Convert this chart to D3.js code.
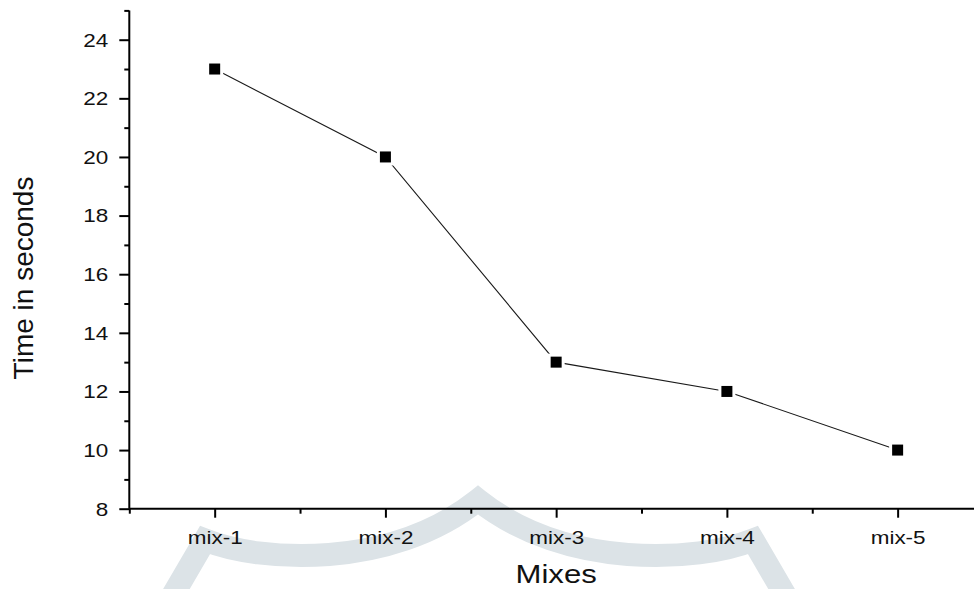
<!DOCTYPE html>
<html>
<head>
<meta charset="utf-8">
<script src="https://cdn.jsdelivr.net/npm/d3@7/dist/d3.min.js"></script>
<style>
  html, body { margin: 0; padding: 0; background: #fff; }
  svg { display: block; }
  text { font-family: "Liberation Sans", Arial, Helvetica, sans-serif; fill: #111; }
</style>
</head>
<body>
<svg id="chart" width="974" height="589"></svg>
<script>
// ---- data ----
const categories = ["mix-1", "mix-2", "mix-3", "mix-4", "mix-5"];
const times = [23, 20, 13, 12, 10];
const yTickValues = [8, 10, 12, 14, 16, 18, 20, 22, 24];
const yMinorTickValues = [9, 11, 13, 15, 17, 19, 21, 23, 25];
const xLabel = "Mixes";
const yLabel = "Time in seconds";

// ---- layout ----
const plotLeft = 129.3, plotRight = 983, plotTop = 10.4, plotBottom = 508.7;
const svg = d3.select("#chart");

const x = d3.scaleLinear().domain([-0.5, categories.length - 0.5]).range([plotLeft, plotRight]);
const y = d3.scaleLinear().domain([8, 25]).range([plotBottom, plotTop]);

// ---- watermark (background decoration) ----
svg.append("path")
  .attr("d", "M163,612 L205,540 C260,562 390,570 478,500 C566,570 698,562 753,540 L795,612")
  .attr("fill", "none")
  .attr("stroke", "rgb(220,227,231)")
  .attr("stroke-width", 23)
  .attr("stroke-linejoin", "miter")
  .attr("stroke-miterlimit", 10);

// ---- axes ----
const tickScaleX = 1.21;

const yAxisMinor = d3.axisLeft(y).tickValues(yMinorTickValues).tickSize(5).tickFormat("");
const yAxis = d3.axisLeft(y).tickValues(yTickValues).tickSize(10).tickSizeOuter(0);

const gyMinor = svg.append("g").attr("transform", `translate(${plotLeft},0)`).call(yAxisMinor);
gyMinor.select(".domain").remove();
gyMinor.selectAll("line").attr("stroke-width", 2);
const gy = svg.append("g").attr("transform", `translate(${plotLeft},0)`).call(yAxis);
gy.select(".domain").attr("stroke-width", 2).attr("d", `M0,${plotTop}V${plotBottom}`);
gy.selectAll("line").attr("stroke-width", 2);
gy.selectAll("text")
  .attr("font-size", "18.6px")
  .attr("text-anchor", "end")
  .attr("x", -21 / tickScaleX)
  .attr("y", 6.3)
  .attr("dy", null)
  .attr("transform", `scale(${tickScaleX},1)`);

const xMinorValues = d3.range(-0.5, categories.length - 0.5, 1);
const xAxisMinor = d3.axisBottom(x).tickValues(xMinorValues).tickSize(5).tickFormat("");
const xAxis = d3.axisBottom(x).tickValues(d3.range(categories.length))
  .tickFormat(i => categories[i]).tickSize(9).tickSizeOuter(0);

const gxMinor = svg.append("g").attr("transform", `translate(0,${plotBottom})`).call(xAxisMinor);
gxMinor.select(".domain").remove();
gxMinor.selectAll("line").attr("stroke-width", 2);
const gx = svg.append("g").attr("transform", `translate(0,${plotBottom})`).call(xAxis);
gx.select(".domain").attr("stroke-width", 2).attr("d", `M${plotLeft},0H${plotRight}`);
gx.selectAll("line").attr("stroke-width", 2);
gx.selectAll("text")
  .attr("font-size", "18.6px")
  .attr("y", 35)
  .attr("dy", null)
  .attr("transform", `scale(${tickScaleX},1)`);

// ---- axis titles ----
svg.append("text")
  .attr("x", (plotLeft + plotRight) / 2 / 1.22)
  .attr("y", 583.3)
  .attr("text-anchor", "middle")
  .attr("font-size", "25.5px")
  .attr("transform", "scale(1.22,1)")
  .text(xLabel);

svg.append("text")
  .attr("transform", "translate(33.3,278) rotate(-90)")
  .attr("text-anchor", "middle")
  .attr("font-size", "28px")
  .text(yLabel);

// ---- series ----
const pts = times.map((v, i) => [x(i), y(v)]);
svg.append("path")
  .attr("d", d3.line()(pts))
  .attr("fill", "none")
  .attr("stroke", "#1a1a1a")
  .attr("stroke-width", 1.1);

const ms = 11, halo = 3;
svg.selectAll("rect.halo").data(times).join("rect")
  .attr("class", "halo")
  .attr("x", (d, i) => x(i) - ms / 2 - halo)
  .attr("y", d => y(d) - ms / 2 - halo)
  .attr("width", ms + 2 * halo)
  .attr("height", ms + 2 * halo)
  .attr("fill", "#fff");
svg.selectAll("rect.mark").data(times).join("rect")
  .attr("class", "mark")
  .attr("x", (d, i) => x(i) - ms / 2)
  .attr("y", d => y(d) - ms / 2)
  .attr("width", ms)
  .attr("height", ms)
  .attr("fill", "#000");
</script>
</body>
</html>
